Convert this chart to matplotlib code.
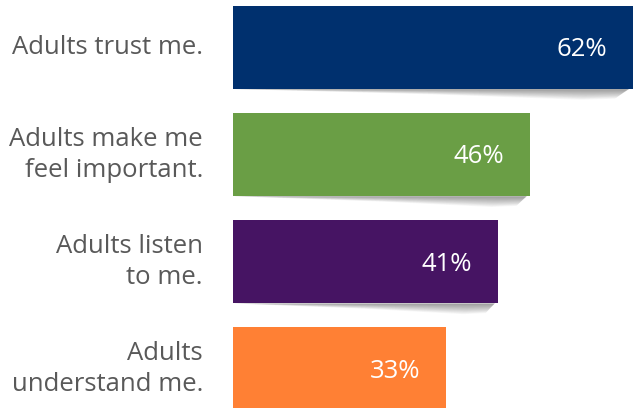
import matplotlib
matplotlib.use("Agg")
import matplotlib.pyplot as plt
from matplotlib.patches import Polygon
import numpy as np

categories = ["Adults trust me.", "Adults make me\nfeel important.", "Adults listen\nto me.", "Adults\nunderstand me."]
values = [62, 46, 41, 33]
value_labels = ["62%", "46%", "41%", "33%"]
colors = ["#00306e", "#6a9e45", "#461463", "#ff8034"]

plt.rcParams['font.family'] = ['Open Sans', 'DejaVu Sans']

fig = plt.figure(figsize=(6.34, 4.08), dpi=100)
ax = fig.add_axes([233/634, 0, 400/634, 1])
ax.set_xlim(0, 62)
ax.set_ylim(3.363, -0.443)
ax.axis('off')

h = 0.776
y = np.arange(len(values))
ax.barh(y, values, height=h, color=colors, zorder=3)

# soft shadows beneath bars
for yi, v in zip(y, values):
    bottom = yi + h / 2
    n = 14
    for k in range(n):
        t = (k + 1) / n
        depth = 0.1 * t
        poly = Polygon([(v * 0.0, bottom), (v * 0.99, bottom),
                        (v * (0.985 - 0.03 * t), bottom + depth * 0.9),
                        (v * (0.9 - 0.03 * t), bottom + depth),
                        (v * 0.5, bottom + depth * 0.5)], closed=True,
                       facecolor='#000000', alpha=0.033, edgecolor='none', zorder=2)
        ax.add_patch(poly)

for yi, v, lab in zip(y, values, value_labels):
    ax.text(v - 26 * 62 / 400, yi + 0.02, lab, ha='right', va='center', color='white', fontsize=18.5, zorder=4)

for yi, c in zip(y, categories):
    ax.text(-30 * 62 / 400, yi, c, ha='right', va='center', color='#595959', fontsize=18.5,
            linespacing=1.3, multialignment='right')

fig.savefig("out.png", dpi=100)
